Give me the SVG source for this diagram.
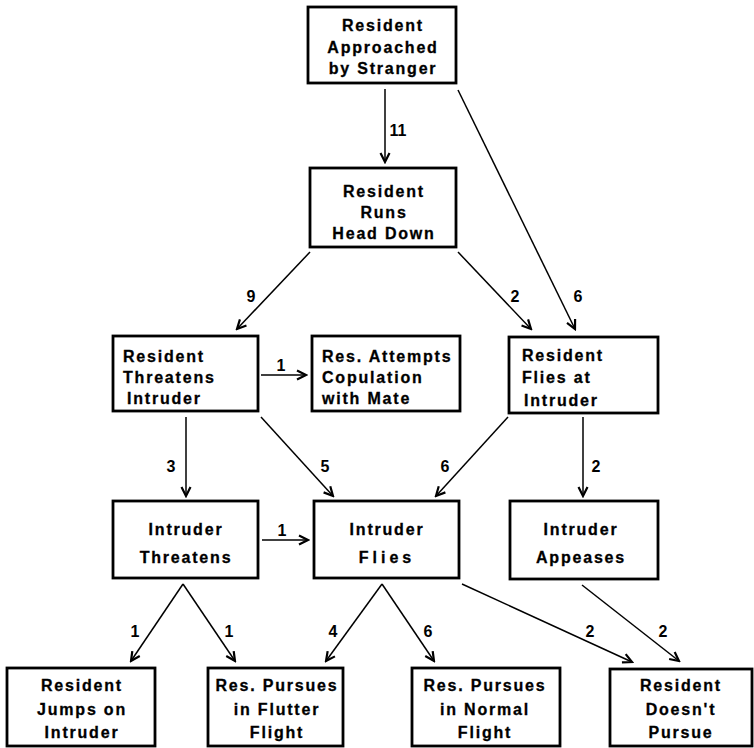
<svg xmlns="http://www.w3.org/2000/svg" width="754" height="748" viewBox="0 0 754 748">
<style>
.box{fill:#fff;stroke:#000;stroke-width:2.8}
.t{font-family:"Liberation Sans",Arial,sans-serif;font-weight:bold;font-size:16px;letter-spacing:1.8px;fill:#000;stroke:#000;stroke-width:0.3}
.c{text-anchor:middle}
.e{stroke:#000;stroke-width:1.5;fill:none;marker-end:url(#ah)}
.n{font-family:"Liberation Sans",Arial,sans-serif;font-weight:bold;font-size:16px;fill:#000;text-anchor:middle}
</style>
<defs>
<marker id="ah" viewBox="-10 -6 12 12" refX="0" refY="0" markerWidth="12" markerHeight="12" markerUnits="userSpaceOnUse" orient="auto">
<path d="M-9,-4.5 L0,0 L-9,4.5" fill="none" stroke="#000" stroke-width="2.2"/>
</marker>
</defs>
<rect width="754" height="748" fill="#fff"/>
<g id="connectors">
<line class="e" x1="385" y1="89" x2="385" y2="162"/>
<line class="e" x1="458" y1="90" x2="575" y2="329"/>
<line class="e" x1="310" y1="252" x2="237" y2="329"/>
<line class="e" x1="458" y1="252" x2="531" y2="329"/>
<line class="e" x1="261" y1="375" x2="306" y2="375"/>
<line class="e" x1="186" y1="417" x2="186" y2="496"/>
<line class="e" x1="261" y1="417" x2="333" y2="496"/>
<line class="e" x1="508" y1="417" x2="436" y2="496"/>
<line class="e" x1="583" y1="417" x2="583" y2="496"/>
<line class="e" x1="262" y1="540" x2="308" y2="540"/>
<line class="e" x1="183" y1="584" x2="131" y2="661"/>
<line class="e" x1="183" y1="584" x2="235" y2="661"/>
<line class="e" x1="382" y1="584" x2="326" y2="661"/>
<line class="e" x1="382" y1="584" x2="434" y2="661"/>
<line class="e" x1="462" y1="584" x2="632" y2="662"/>
<line class="e" x1="582" y1="585" x2="679" y2="661"/>
</g>
<g id="labels">
<text class="n" x="398" y="136">11</text>
<text class="n" x="251" y="302">9</text>
<text class="n" x="515" y="302">2</text>
<text class="n" x="578" y="302">6</text>
<text class="n" x="281" y="371">1</text>
<text class="n" x="171" y="472">3</text>
<text class="n" x="325" y="472">5</text>
<text class="n" x="445" y="472">6</text>
<text class="n" x="596" y="472">2</text>
<text class="n" x="282" y="536">1</text>
<text class="n" x="135" y="637">1</text>
<text class="n" x="229" y="637">1</text>
<text class="n" x="333" y="637">4</text>
<text class="n" x="428" y="637">6</text>
<text class="n" x="590" y="637">2</text>
<text class="n" x="663" y="637">2</text>
</g>
<g id="n_approached">
<rect class="box" x="308" y="7" width="148" height="76"/>
<text class="t c" x="383" y="31">Resident</text>
<text class="t c" x="383" y="53">Approached</text>
<text class="t c" x="383" y="74">by Stranger</text>
</g>
<g id="n_runs">
<rect class="box" x="310" y="168" width="146" height="79"/>
<text class="t c" x="384" y="197">Resident</text>
<text class="t c" x="384" y="218">Runs</text>
<text class="t c" x="384" y="239">Head  Down</text>
</g>
<g id="n_threatens">
<rect class="box" x="113" y="336" width="145" height="75"/>
<text class="t" x="123" y="362">Resident</text>
<text class="t" x="123" y="383">Threatens</text>
<text class="t" x="127" y="404">Intruder</text>
</g>
<g id="n_copulation">
<rect class="box" x="312" y="336" width="148" height="75"/>
<text class="t" x="322" y="362">Res. Attempts</text>
<text class="t" x="322" y="383">Copulation</text>
<text class="t" x="322" y="404">with  Mate</text>
</g>
<g id="n_flies_at">
<rect class="box" x="509" y="337" width="149" height="76"/>
<text class="t" x="522" y="361">Resident</text>
<text class="t" x="522" y="383">Flies  at</text>
<text class="t" x="524" y="406">Intruder</text>
</g>
<g id="n_int_threatens">
<rect class="box" x="113" y="501" width="145" height="77"/>
<text class="t c" x="186" y="535">Intruder</text>
<text class="t c" x="186" y="563">Threatens</text>
</g>
<g id="n_int_flies">
<rect class="box" x="314" y="501" width="145" height="77"/>
<text class="t c" x="387" y="535">Intruder</text>
<text class="t c" x="387" y="563" style="letter-spacing:4px">Flies</text>
</g>
<g id="n_int_appeases">
<rect class="box" x="510" y="501" width="148" height="78"/>
<text class="t c" x="581" y="535">Intruder</text>
<text class="t c" x="581" y="563">Appeases</text>
</g>
<g id="n_jumps">
<rect class="box" x="7" y="668" width="148" height="78"/>
<text class="t c" x="82" y="691">Resident</text>
<text class="t c" x="82" y="715">Jumps  on</text>
<text class="t c" x="82" y="738">Intruder</text>
</g>
<g id="n_flutter">
<rect class="box" x="208" y="668" width="135" height="78"/>
<text class="t c" x="277" y="691">Res. Pursues</text>
<text class="t c" x="277" y="715">in  Flutter</text>
<text class="t c" x="277" y="738">Flight</text>
</g>
<g id="n_normal">
<rect class="box" x="412" y="668" width="148" height="78"/>
<text class="t c" x="485" y="691">Res. Pursues</text>
<text class="t c" x="485" y="715">in  Normal</text>
<text class="t c" x="485" y="738">Flight</text>
</g>
<g id="n_doesnt">
<rect class="box" x="610" y="669" width="142" height="77"/>
<text class="t c" x="681" y="691">Resident</text>
<text class="t c" x="681" y="715">Doesn't</text>
<text class="t c" x="681" y="738">Pursue</text>
</g>
</svg>
